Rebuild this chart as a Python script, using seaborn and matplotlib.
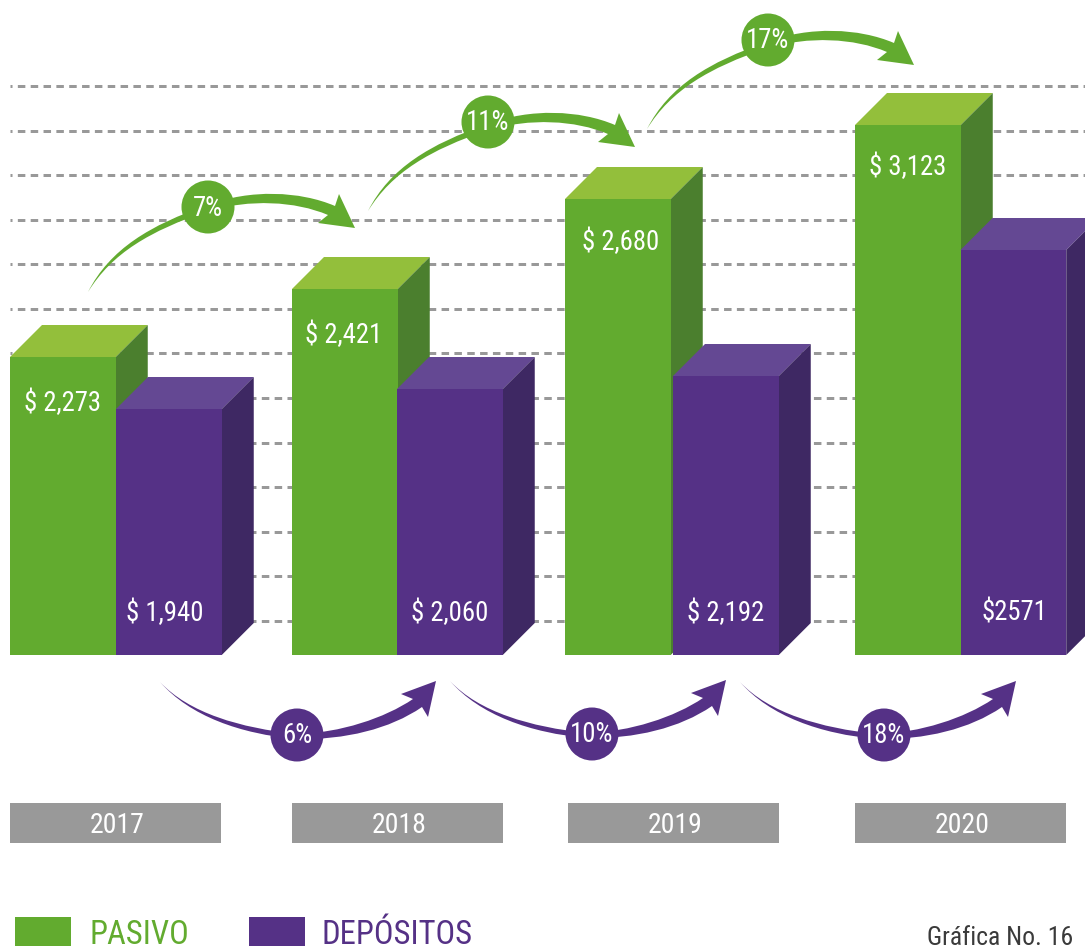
import matplotlib
matplotlib.use("Agg")
import matplotlib.pyplot as plt
from matplotlib import font_manager as fm
from matplotlib.path import Path
from matplotlib.patches import PathPatch, Polygon, Rectangle, Circle
import seaborn as sns

# ---------- data ----------
years = ["2017", "2018", "2019", "2020"]
pasivo_labels = ["$ 2,273", "$ 2,421", "$ 2,680", "$ 3,123"]
depositos_labels = ["$ 1,940", "$ 2,060", "$ 2,192", "$2571"]
# drawn bar heights (the infographic is not to scale)
pasivo_heights = [298, 366, 456, 530]
depositos_heights = [246, 266, 279, 405]
pasivo_growth = ["7%", "11%", "17%"]
depositos_growth = ["6%", "10%", "18%"]

# ---------- layout ----------
W, H = 1085, 946
BASE = 655
BW = 105.75
DEPTH = 32
pasivo_left = [10, 292, 565, 855]
depositos_left = [116, 397, 673, 960.5]
year_left = [10, 292, 568, 855]
pasivo_label_x = [63, 344, 621, 908]
pasivo_label_y = [403, 335, 242, 167]
depositos_label_x = [165, 450, 726, 1014]
green_shift = [(0, 0), (280, -81), (559, -163)]
green_circle_shift = [(0, 0), (280, -85), (560, -167)]
purple_shift = [(0, 0), (290, -1), (580, 0)]
purple_circle_dx = [0, 295, 587]

GREEN, GREEN_TOP, GREEN_SIDE = "#62AB2F", "#93BF3B", "#4B7F2E"
PURPLE, PURPLE_TOP, PURPLE_SIDE = "#553186", "#644893", "#3E2863"
GREY = "#999999"

sns.set_theme(style="white")
names = {f.name for f in fm.fontManager.ttflist}
NARROW = next((n for n in ["Roboto Condensed", "Liberation Sans Narrow"] if n in names), None)
COND = NARROW or "Roboto"
K = 1.0 if NARROW else 0.84
plt.rcParams["font.family"] = [COND, "DejaVu Sans"]

fig = plt.figure(figsize=(W / 100, H / 100), dpi=100)
ax = fig.add_axes([0, 0, 1, 1])


def Y(py):
    return BASE - py


# dashed guide lines
for i in range(13):
    ax.hlines(Y(86 + i * 535 / 12), 10, W, color=GREY, lw=2.16,
              linestyles=[(1.83, (2.5, 1.78))], capstyle="butt", zorder=1)


def draw_series(left, heights, front, top, side, z):
    centers = [l + BW / 2 for l in left]
    sns.barplot(x=centers, y=heights, native_scale=True,
                width=BW / min(b - a for a, b in zip(centers, centers[1:])),
                color=front, saturation=1, linewidth=0, ax=ax, zorder=z + 1)
    for l, h in zip(left, heights):
        ax.add_patch(Polygon([(l, h), (l + BW, h), (l + BW + DEPTH, h + DEPTH), (l + DEPTH, h + DEPTH)],
                             fc=top, ec="none", zorder=z))
        ax.add_patch(Polygon([(l + BW, 0), (l + BW + DEPTH, DEPTH), (l + BW + DEPTH, h + DEPTH), (l + BW, h)],
                             fc=side, ec="none", zorder=z))


draw_series(pasivo_left, pasivo_heights, GREEN, GREEN_TOP, GREEN_SIDE, 2)
draw_series(depositos_left, depositos_heights, PURPLE, PURPLE_TOP, PURPLE_SIDE, 4)

LAB = 19.3 * K
for x, py, s in zip(pasivo_label_x, pasivo_label_y, pasivo_labels):
    ax.text(x, Y(py), s, color="white", fontsize=LAB, ha="center", va="center", zorder=8)
for x, s in zip(depositos_label_x, depositos_labels):
    ax.text(x, Y(613), s, color="white", fontsize=LAB, ha="center", va="center", zorder=8)


def arrow(points, dx, dy, color):
    verts = [(x + dx, Y(y + dy)) for x, y in points]
    codes = [Path.MOVETO] + [Path.CURVE4] * 6 + [Path.LINETO] * 4 + [Path.CURVE4] * 6 + [Path.CLOSEPOLY]
    verts.append(verts[0])
    ax.add_patch(PathPatch(Path(verts, codes), fc=color, ec="none", zorder=7))


green_arrow = [(88, 292), (110, 249), (150, 225), (208, 205), (250, 189), (300, 191), (335, 206),
               (339, 194), (355, 228), (318, 223), (328, 215),
               (295, 201), (250, 199), (208, 211), (150, 231), (112, 253), (88, 292)]
purple_arrow = [(160, 682), (189, 713), (240, 728), (297, 734), (340, 733), (385, 718), (413, 699),
                (401, 694), (436, 681), (428, 717), (422, 707),
                (390, 729), (345, 740), (297, 739), (240, 734), (190, 716), (160, 682)]

for (dx, dy), (cdx, cdy), s in zip(green_shift, green_circle_shift, pasivo_growth):
    arrow(green_arrow, dx, dy, GREEN)
    ax.add_patch(Circle((208 + cdx, Y(207 + cdy)), 26.5, fc=GREEN, ec="none", zorder=7))
    ax.text(208 + cdx, Y(208 + cdy), s, color="white", fontsize=LAB, ha="center", va="center", zorder=8)
for (dx, dy), cdx, s in zip(purple_shift, purple_circle_dx, depositos_growth):
    arrow(purple_arrow, dx, dy, PURPLE)
    ax.add_patch(Circle((297 + cdx, Y(735 + dy)), 26.5, fc=PURPLE, ec="none", zorder=7))
    ax.text(297 + cdx, Y(735 + dy), s, color="white", fontsize=LAB,
            ha="center", va="center", zorder=8)

# year boxes
for l, s in zip(year_left, years):
    ax.add_patch(Rectangle((l, Y(843)), 211, 40, fc=GREY, ec="none", zorder=3))
    ax.text(l + 107, Y(825), s, color="white", fontsize=20 * K, ha="center", va="center", zorder=8)

# legend
ax.add_patch(Rectangle((15, Y(946)), 56, 29, fc=GREEN, ec="none"))
ax.add_patch(Rectangle((249, Y(946)), 56, 29, fc=PURPLE, ec="none"))
ax.text(89, Y(944), "PASIVO", color=GREEN, fontsize=23.5 * K, ha="left", va="baseline")
ax.text(322, Y(944), "DEPÓSITOS", color=PURPLE, fontsize=23.5 * K, ha="left", va="baseline")
ax.text(1073, Y(945), "Gráfica No. 16", color="#3A3A3A", fontsize=18.5 * K,
        ha="right", va="baseline")

ax.set_xlim(0, W)
ax.set_ylim(BASE - H, BASE)
ax.axis("off")
fig.savefig("out.png", dpi=100, facecolor="white")
